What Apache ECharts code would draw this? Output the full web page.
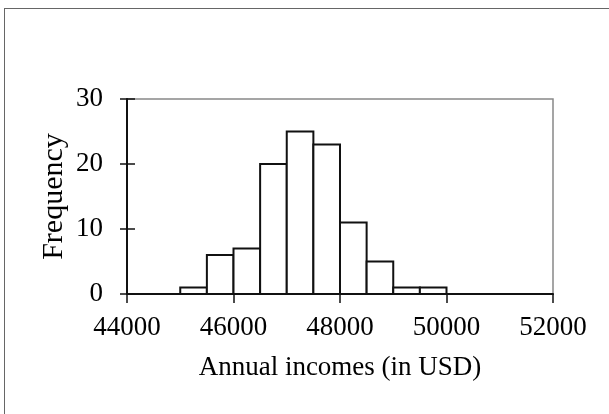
<!DOCTYPE html>
<html>
<head>
<meta charset="utf-8">
<script src="https://cdn.jsdelivr.net/npm/echarts@6/dist/echarts.min.js"></script>
<style>
html,body{margin:0;padding:0;background:#fff;}
#frame{position:absolute;left:4px;top:8px;width:640px;height:440px;border-top:1.5px solid #666;border-left:1.5px solid #666;}
#chart{position:absolute;left:0;top:0;width:609px;height:414px;}
</style>
</head>
<body>
<div id="frame"></div>
<div id="chart"></div>
<script>
const binStarts = [45000, 45500, 46000, 46500, 47000, 47500, 48000, 48500, 49000, 49500];
const binEnds   = [45500, 46000, 46500, 47000, 47500, 48000, 48500, 49000, 49500, 50000];
const frequencies = [1, 6, 7, 20, 25, 23, 11, 5, 1, 1];
const xTicks = [44000, 46000, 48000, 50000, 52000];
const yTicks = [0, 10, 20, 30];

const data = binStarts.map((s, i) => [s, binEnds[i], frequencies[i]]);
const font = '"Liberation Serif", "Times New Roman", serif';

const chart = echarts.init(document.getElementById('chart'));
chart.setOption({
  animation: false,
  backgroundColor: 'transparent',
  grid: {left: 127, right: 56, top: 99, bottom: 120, show: true, borderColor: '#888', borderWidth: 1.5, backgroundColor: 'transparent'},
  xAxis: {
    type: 'value', min: xTicks[0], max: xTicks[xTicks.length - 1], interval: 2000,
    name: 'Annual incomes (in USD)', nameLocation: 'middle', nameGap: 60,
    nameTextStyle: {fontFamily: font, fontSize: 27, color: '#000'},
    axisLine: {show: true, onZero: false, lineStyle: {color: '#111', width: 2}},
    axisTick: {show: true, length: 9, lineStyle: {color: '#111', width: 1.5}},
    axisLabel: {fontFamily: font, fontSize: 27, color: '#000', margin: 20, formatter: v => String(v)},
    splitLine: {show: false}
  },
  yAxis: [{
    type: 'value', min: 0, max: 30, interval: 10,
    name: 'Frequency', nameLocation: 'middle', nameGap: 58, nameMoveOverlap: false,
    nameTextStyle: {fontFamily: font, fontSize: 30, color: '#000'},
    axisLine: {show: true, lineStyle: {color: '#111', width: 2}},
    axisTick: {show: true, length: 7, lineStyle: {color: '#111', width: 1.5}},
    axisLabel: {fontFamily: font, fontSize: 27, color: '#000', margin: 24, formatter: v => String(v)},
    splitLine: {show: false}
  }, {
    type: 'value', min: 0, max: 30, interval: 10, position: 'left',
    axisLine: {show: false},
    axisTick: {show: true, inside: true, length: 8, lineStyle: {color: '#111', width: 1.5}},
    axisLabel: {show: false},
    splitLine: {show: false}
  }],
  series: [{
    type: 'custom',
    data: data,
    encode: {x: [0, 1], y: 2},
    renderItem: function (params, api) {
      const p0 = api.coord([api.value(0), api.value(2)]);
      const p1 = api.coord([api.value(1), 0]);
      return {
        type: 'rect',
        shape: {x: p0[0], y: p0[1], width: p1[0] - p0[0], height: p1[1] - p0[1]},
        style: {fill: '#fff', stroke: '#111', lineWidth: 2}
      };
    }
  }]
});
</script>
</body>
</html>
